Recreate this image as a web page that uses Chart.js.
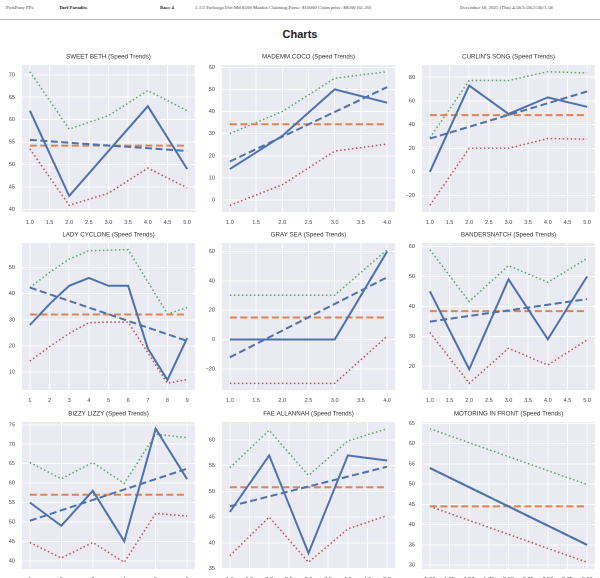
<!DOCTYPE html>
<html>
<head>
<meta charset="utf-8">
<script src="https://cdn.jsdelivr.net/npm/chart.js@4.4.1/dist/chart.umd.min.js"></script>
<style>
	body { margin: 0; background: #fff; width: 600px; height: 578px; overflow: hidden; position: relative; }
	.hdr { position: absolute; top: 5px; font-family: 'Liberation Serif', serif; font-size: 4.9px; color: #444; white-space: nowrap; }
	.hdr b { color: #222; }
	.rule { position: absolute; left: 0; top: 19px; width: 600px; height: 1px; background: #b5b5b5; }
	.pageTitle { position: absolute; left: 0; width: 600px; top: 28px; text-align: center; font-family: 'Liberation Sans', Arial, sans-serif; font-weight: bold; font-size: 11px; color: #222; }
	canvas { position: absolute; }
</style>
</head>
<body>
<div class="hdr" style="left:6px">PickPony PPs</div>
<div class="hdr" style="left:59px"><b>Turf Paradise</b></div>
<div class="hdr" style="left:160px"><b>Race 4</b></div>
<div class="hdr" style="left:195px">5 1/2 Furlongs Dirt Md 8500 Maiden Claiming Purse: $10000 Claim price: $8500 (61.20)</div>
<div class="hdr" style="left:460px">December 18, 2025 (Thu) 4:58/3:58(2:58)/1:58</div>
<div class="rule"></div>
<div class="pageTitle">Charts</div>

<script>
// horses, one panel each (row by row)
const horses = ['SWEET BETH', 'MADEMM COCO', "CURLIN'S SONG", 'LADY CYCLONE', 'GRAY SEA',
	'BANDERSNATCH', 'BIZZY LIZZY', 'FAE ALLANNAH', 'MOTORING IN FRONT'];

// speed figures per race (x = 1..n)
const speed = [
	[62, 43, 53, 63, 49],
	[14, 29, 50, 44],
	[0, 73, 49, 63, 55],
	[28, 36, 43, 46, 43, 43, 19, 7, 23],
	[0, 0, 0, 60],
	[45, 19, 49, 29, 50],
	[55, 49, 58, 45, 74, 61],
	[46, 57, 38, 57, 56],
	[54, 44.5, 35],
];

// upper band (green dotted)
const upper = [
	[70.7, 57.9, 60.9, 66.5, 62],
	[30, 40, 55, 58],
	[28.8, 77.2, 77.2, 84.7, 83.6],
	[42.3, 48.1, 53.2, 56.4, 56.6, 56.8, 44.5, 32.2, 34.7],
	[30.2, 30.2, 30.2, 61.2],
	[58.9, 41.6, 53.6, 48, 56],
	[65.3, 61.1, 65.3, 59.9, 72.6, 71.7],
	[54.6, 61.9, 53.1, 59.8, 62.2],
	[63.7, 56.8, 49.9],
];

// lower band (red dotted)
const lower = [
	[53.5, 40.9, 43.6, 49.2, 44.8],
	[-2.4, 6.9, 22.1, 25.3],
	[-28.2, 20, 20, 28.2, 27.7],
	[14.2, 19.7, 24.8, 28.9, 29.1, 29.1, 17.4, 5.7, 7.2],
	[-29.8, -29.8, -29.8, 2.3],
	[31.3, 14.3, 26, 20.4, 28.8],
	[44.7, 40.7, 44.7, 39.6, 52.2, 51.5],
	[37.5, 45, 36.2, 42.7, 45.3],
	[44.5, 37.6, 30.7],
];

// average (orange dashed) and trend line ends (blue dashed)
const average = [54.2, 34.25, 48, 32, 15, 38.4, 57, 50.8, 44.5];
const trendStart = [55.5, 17.4, 28.2, 42.3, -12.1, 34.9, 50.3, 47.1, 54];
const trendEnd = [53, 51, 68, 21.9, 42.4, 42.4, 63.7, 54.8, 35];

// tick spacing
const yStep = [5, 10, 20, 10, 20, 10, 5, 5, 5];
const xStep = [0.5, 0.5, 0.5, 1, 0.5, 0.5, 1, 0.5, 0.25];

const rowTop = [46, 224, 403];
const tickFont = { family: "'Liberation Sans', Arial, sans-serif", size: 5.6 };

const panelDecor = {
	id: 'panelDecor',
	beforeDraw(chart) {
		const a = chart.chartArea, c = chart.ctx;
		c.save();
		c.fillStyle = '#eaeaf2';
		c.fillRect(a.left, a.top, a.right - a.left, a.bottom - a.top);
		c.restore();
	},
	afterDraw(chart, args, opts) {
		const a = chart.chartArea, c = chart.ctx;
		c.save();
		c.font = "6.2px 'Liberation Sans', Arial, sans-serif";
		c.fillStyle = '#333';
		c.textAlign = 'center';
		c.textBaseline = 'middle';
		c.fillText(opts.text, (a.left + a.right) / 2, a.top - 8);
		c.restore();
	},
};

const pts = arr => arr.map((v, i) => ({ x: i + 1, y: v }));

// ticks on multiples of the step, like matplotlib
const stepTicks = step => s => {
	const t = [];
	for (let v = Math.ceil(s.min / step - 1e-9) * step; v <= s.max + 1e-9; v += step) {
		t.push({ value: +v.toFixed(4) });
	}
	s.ticks = t;
};

horses.forEach((name, k) => {
	const n = speed[k].length;
	const all = speed[k].concat(upper[k], lower[k], [average[k], trendStart[k], trendEnd[k]]);
	const lo = Math.min(...all), hi = Math.max(...all);
	const ypad = (hi - lo) * 0.05, xpad = (n - 1) * 0.05;
	const xDec = xStep[k] === 0.25 ? 2 : (xStep[k] < 1 ? 1 : 0);

	const canvas = document.createElement('canvas');
	canvas.width = 200;
	canvas.height = 182;
	canvas.style.left = (k % 3) * 200 + 'px';
	canvas.style.top = rowTop[Math.floor(k / 3)] + 'px';
	document.body.appendChild(canvas);

	new Chart(canvas.getContext('2d'), {
		type: 'line',
		data: {
			datasets: [
				{ data: pts(speed[k]), borderColor: '#4c72b0', borderWidth: 2 },
				{ data: [{ x: 1, y: trendStart[k] }, { x: n, y: trendEnd[k] }], borderColor: '#4c72b0', borderWidth: 2, borderDash: [7, 3.5] },
				{ data: [{ x: 1, y: average[k] }, { x: n, y: average[k] }], borderColor: '#dd8452', borderWidth: 2, borderDash: [7, 3.5] },
				{ data: pts(upper[k]), borderColor: '#55a868', borderWidth: 1.5, borderDash: [1.5, 2.5] },
				{ data: pts(lower[k]), borderColor: '#c44e52', borderWidth: 1.5, borderDash: [1.5, 2.5] },
			],
		},
		options: {
			responsive: false,
			animation: false,
			devicePixelRatio: 2,
			elements: { point: { radius: 0 }, line: { tension: 0, borderCapStyle: 'butt' } },
			layout: { padding: { top: 19, right: 5, left: 0, bottom: 0 } },
			plugins: {
				legend: { display: false },
				tooltip: { enabled: false },
				panelDecor: { text: name + ' (Speed Trends)' },
			},
			scales: {
				x: {
					type: 'linear',
					min: 1 - xpad,
					max: n + xpad,
					afterFit: s => { s.height = 16; },
					afterBuildTicks: stepTicks(xStep[k]),
					border: { display: false },
					grid: { color: '#ffffff', lineWidth: 1, drawTicks: false },
					ticks: {
						padding: 7,
						maxRotation: 0,
						autoSkip: false,
						color: '#444',
						font: tickFont,
						callback: v => v.toFixed(xDec),
					},
				},
				y: {
					min: lo - ypad,
					max: hi + ypad,
					afterFit: s => { s.width = 22; },
					afterBuildTicks: stepTicks(yStep[k]),
					border: { display: false },
					grid: { color: '#ffffff', lineWidth: 1, drawTicks: false },
					ticks: {
						padding: 7,
						color: '#444',
						font: tickFont,
						callback: v => (v < 0 ? '\u2212' + Math.abs(v) : String(Math.round(v))),
					},
				},
			},
		},
		plugins: [panelDecor],
	});
});
</script>
</body>
</html>
